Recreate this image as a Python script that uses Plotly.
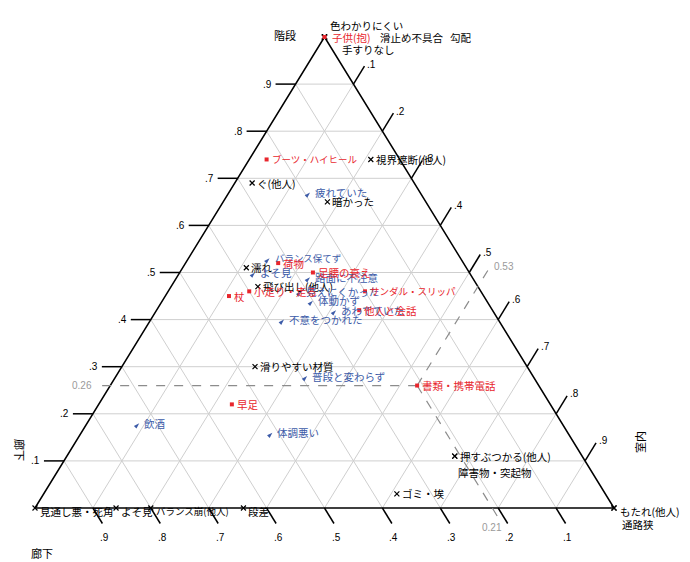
import plotly.graph_objects as go

# ---- data: ternary composition (階段 a, 廊下 b, 室内 c) for each factor ----
# environment factors (black ×)
env_labels = ["色わかりにくい", "滑止め不具合", "勾配", "手すりなし", "視界遮断(他人)",
              "ぐ(他人)", "暗かった", "濡れ", "飛び出し(他人)", "滑りやすい材質",
              "見通し悪・死角", "よそ見", "バランス崩(他人)", "段差", "ゴミ・埃",
              "押すぶつかる(他人)", "障害物・突起物", "もたれ(他人)", "通路狭"]
env_a = [1.00, 1.00, 1.00, 1.00, 0.74, 0.69, 0.65, 0.51, 0.47, 0.30,
         0.00, 0.00, 0.00, 0.00, 0.03, 0.11, 0.11, 0.00, 0.00]
env_b = [0.00, 0.00, 0.00, 0.00, 0.05, 0.28, 0.17, 0.38, 0.38, 0.47,
         1.00, 0.86, 0.80, 0.64, 0.36, 0.22, 0.22, 0.00, 0.00]
env_c = [0.00, 0.00, 0.00, 0.00, 0.21, 0.03, 0.18, 0.11, 0.15, 0.23,
         0.00, 0.14, 0.20, 0.36, 0.61, 0.67, 0.67, 1.00, 1.00]

# physical / mental state (blue)
body_labels = ["バランス保てず", "よそ見", "疲れていた", "路面に不注意", "見えにくかった",
               "体動かず", "あわてていた", "不意をつかれた", "普段と変わらず", "飲酒", "体調悪い"]
body_a = [0.53, 0.50, 0.67, 0.49, 0.46, 0.44, 0.42, 0.40, 0.28, 0.18, 0.16]
body_b = [0.33, 0.37, 0.19, 0.28, 0.31, 0.30, 0.27, 0.37, 0.39, 0.73, 0.51]
body_c = [0.14, 0.13, 0.14, 0.23, 0.23, 0.26, 0.31, 0.23, 0.33, 0.09, 0.33]

# behaviour / belongings (red)
act_labels = ["子供(抱)", "ブーツ・ハイヒール", "荷物", "足腰の衰え", "小走り・走る", "杖",
              "サンダル・スリッパ", "他人と会話", "書類・携帯電話", "早足"]
act_a = [1.00, 0.74, 0.52, 0.50, 0.46, 0.45, 0.46, 0.42, 0.26, 0.22]
act_b = [0.00, 0.23, 0.32, 0.27, 0.40, 0.44, 0.20, 0.23, 0.21, 0.55]
act_c = [0.00, 0.03, 0.16, 0.23, 0.14, 0.11, 0.34, 0.35, 0.53, 0.23]

# highlighted composition with guide lines
focus_a, focus_b, focus_c = 0.26, 0.21, 0.53
focus_text = ["0.26", "0.21", "0.53"]

tick_vals = [0.1, 0.2, 0.3, 0.4, 0.5, 0.6, 0.7, 0.8, 0.9]
tick_text = [".1", ".2", ".3", ".4", ".5", ".6", ".7", ".8", ".9"]

# ---- geometry of the drawing area (pixels per unit) ----
W, H = 690, 562
SX, SY = 579.0, 471.0          # triangle width / height in pixels
X0, Y0 = 35.0, 54.0            # bottom-left corner offset (left, bottom)

FONT = "Noto Sans CJK JP"
TICKFONT = "Liberation Sans"
RED = "#e8262d"
BLUE = "#3c5ba8"
GRID = "#cfcfcf"


def txy(a, b, c):
    s = a + b + c
    a, c = a / s, c / s
    return c + a / 2.0, a


def px(dx, dy):
    # pixel offset -> data offset
    return dx / SX, dy / SY


fig = go.Figure()

# grid lines
gx, gy = [], []
for t in tick_vals:
    for p, q in [(txy(t, 1 - t, 0), txy(t, 0, 1 - t)),
                 (txy(1 - t, t, 0), txy(0, t, 1 - t)),
                 (txy(1 - t, 0, t), txy(0, 1 - t, t))]:
        gx += [p[0], q[0], None]
        gy += [p[1], q[1], None]
fig.add_trace(go.Scatter(x=gx, y=gy, mode="lines", line=dict(color=GRID, width=1),
                         hoverinfo="skip", showlegend=False))

# tick marks
tx, ty = [], []
ann = []
for t, lab in zip(tick_vals, tick_text):
    # left side (階段)
    ex, ey = txy(t, 1 - t, 0)
    dx, dy = px(-20, 0)
    tx += [ex, ex + dx, None]
    ty += [ey, ey + dy, None]
    ann.append(dict(x=ex + dx, y=ey, text=lab, xanchor="right", yanchor="middle",
                    xshift=-2, font=dict(family=TICKFONT, size=10, color="black")))
    # bottom side (廊下)
    ex, ey = txy(0, t, 1 - t)
    dx, dy = px(9.5, -15.5)
    tx += [ex, ex + dx, None]
    ty += [ey, ey + dy, None]
    ann.append(dict(x=ex + dx, y=ey + dy, text=lab, xanchor="center", yanchor="top",
                    yshift=-6, xshift=2, font=dict(family=TICKFONT, size=10, color="black")))
    # right side (室内)
    ex, ey = txy(1 - t, 0, t)
    dx, dy = px(11, 18)
    tx += [ex, ex + dx, None]
    ty += [ey, ey + dy, None]
    ann.append(dict(x=ex + dx, y=ey + dy, text=lab, xanchor="left", yanchor="middle",
                    xshift=1, yshift=2, font=dict(family=TICKFONT, size=10, color="black")))
fig.add_trace(go.Scatter(x=tx, y=ty, mode="lines", line=dict(color="black", width=1.5),
                         hoverinfo="skip", showlegend=False))

# triangle edges
ea, eb, ec = txy(1, 0, 0), txy(0, 1, 0), txy(0, 0, 1)
fig.add_trace(go.Scatter(x=[ea[0], eb[0], ec[0], ea[0]], y=[ea[1], eb[1], ec[1], ea[1]],
                         mode="lines", line=dict(color="black", width=1.5),
                         hoverinfo="skip", showlegend=False))

# guide lines for the highlighted composition
fx, fy = txy(focus_a, focus_b, focus_c)
la = txy(focus_a, 1 - focus_a, 0)
lb = txy(0, focus_b, 1 - focus_b)
lc = txy(1 - focus_c, 0, focus_c)
ext_a = (la[0] - 13 / SX, la[1])
ext_b = (lb[0] + 6 / SX, lb[1] - 10 / SY)
ext_c = (lc[0] + 11 / SX, lc[1] + 18 / SY)
dxs, dys = [], []
for e in (ext_a, ext_b, ext_c):
    dxs += [fx, e[0], None]
    dys += [fy, e[1], None]
fig.add_trace(go.Scatter(x=dxs, y=dys, mode="lines",
                         line=dict(color="#8c8c8c", width=1.2, dash="dash"),
                         hoverinfo="skip", showlegend=False))
gray_font = dict(family=TICKFONT, size=10, color="#9a9a9a")
ann.append(dict(x=ext_a[0], y=ext_a[1], text=focus_text[0], xanchor="right",
                yanchor="middle", xshift=-3, font=gray_font))
ann.append(dict(x=ext_b[0], y=ext_b[1], text=focus_text[1], xanchor="center",
                yanchor="top", xshift=-6, yshift=-2, font=gray_font))
ann.append(dict(x=ext_c[0], y=ext_c[1], text=focus_text[2], xanchor="left",
                yanchor="middle", xshift=3, yshift=2, font=gray_font))

# label offsets (pixels) for crowded labels
label_shift = {
    "色わかりにくい": (0, 12),
    "子供(抱)": (2, 0),
    "滑止め不具合": (50, 0),
    "勾配": (120, 0),
    "手すりなし": (12, -12),
    "もたれ(他人)": (1, -3),
    "通路狭": (3, -16),
    "障害物・突起物": (-2, -16),
    "見通し悪・死角": (0, -3),
    "よそ見_env": (0, -3),
    "バランス崩(他人)": (0, -3),
    "段差": (0, -3),
}
# katakana-heavy labels set a little tighter
label_size = {
    "ブーツ・ハイヒール": 9.5,
    "サンダル・スリッパ": 9.5,
    "バランス保てず": 9.5,
    "バランス崩(他人)": 9.5,
}

groups = [
    (env_labels, env_a, env_b, env_c, "black",
     dict(symbol="x-thin", size=5, line=dict(width=1.2, color="black")), "_env"),
    (body_labels, body_a, body_b, body_c, BLUE,
     dict(symbol="arrow", size=6, angle=45, color=BLUE, line=dict(width=0)), "_body"),
    (act_labels, act_a, act_b, act_c, RED,
     dict(symbol="square", size=4, color=RED, line=dict(width=0)), "_act"),
]

for labels, av, bv, cv, col, mk, key in groups:
    xs, ys = [], []
    for lab, a, b, c in zip(labels, av, bv, cv):
        x, y = txy(a, b, c)
        xs.append(x)
        ys.append(y)
        sx, sy = label_shift.get(lab + key, label_shift.get(lab, (0, 0)))
        ann.append(dict(x=x, y=y, text=lab, xanchor="left", yanchor="middle",
                        xshift=3 + sx, yshift=sy,
                        font=dict(family=FONT, size=label_size.get(lab, 10.5), color=col)))
    fig.add_trace(go.Scatter(x=xs, y=ys, mode="markers", marker=mk, cliponaxis=False,
                             hovertext=labels, hoverinfo="text", showlegend=False))

# axis titles
title_font = dict(family=FONT, size=11, color="black")
ann.append(dict(x=ea[0], y=ea[1], text="階段", xanchor="center", yanchor="middle",
                xshift=-40, yshift=2, font=title_font))
ann.append(dict(x=eb[0], y=eb[1], text="廊下", xanchor="center", yanchor="middle",
                xshift=7, yshift=-45, font=title_font))
ann.append(dict(xref="paper", yref="paper", x=20 / W, y=1 - 450 / H, text="廊下",
                textangle=90, xanchor="center", yanchor="middle", font=title_font))
ann.append(dict(xref="paper", yref="paper", x=640 / W, y=1 - 442 / H, text="室内",
                textangle=-90, xanchor="center", yanchor="middle", font=title_font))

for a_ in ann:
    a_.setdefault("showarrow", False)
    a_.setdefault("xref", "x")
    a_.setdefault("yref", "y")

xr0 = -X0 / SX
yr0 = -Y0 / SY
fig.update_layout(
    width=W, height=H,
    margin=dict(l=0, r=0, t=0, b=0),
    paper_bgcolor="white", plot_bgcolor="white",
    xaxis=dict(range=[xr0, xr0 + W / SX], visible=False, fixedrange=True),
    yaxis=dict(range=[yr0, yr0 + H / SY], visible=False, fixedrange=True),
    annotations=ann,
    showlegend=False,
)

fig.write_html("out.html")
